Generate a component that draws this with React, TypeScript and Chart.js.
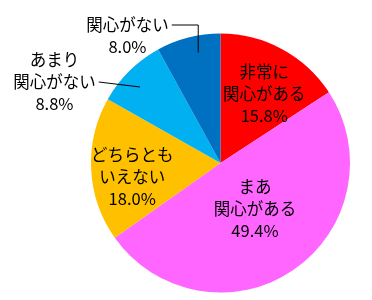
import React, { useEffect, useRef } from "react";
import { Chart, registerables } from "chart.js";

Chart.register(...registerables);

const categories: string[][] = [
  ["非常に", "関心がある"],
  ["まあ", "関心がある"],
  ["どちらとも", "いえない"],
  ["あまり", "関心がない"],
  ["関心がない"],
];
const values: number[] = [15.8, 49.4, 18.0, 8.8, 8.0];
const colors: string[] = ["#FF0000", "#FF66FF", "#FFC000", "#00B0F0", "#0070C0"];

type Place =
  | { kind: "in"; r: number; da: number }
  | { kind: "out"; lx: number; ly: number; ex: number; ey: number; path: "elbow" | "straight" };

const FONT = '16.5px "Noto Sans CJK JP", "Noto Sans", sans-serif';
const LINE_H = 22;

export default function App() {
  const ref = useRef<HTMLCanvasElement | null>(null);
  useEffect(() => {
    document.body.style.margin = "0";
    const canvas = ref.current;
    if (!canvas) return;

    const places: Place[] = [
      { kind: "in", r: 0.63, da: 4 },
      { kind: "in", r: 0.44, da: -3 },
      { kind: "in", r: 0.69, da: -6 },
      { kind: "out", lx: -166, ly: -81, ex: 0.855, ey: -2, path: "straight" },
      { kind: "out", lx: -93, ly: -127, ex: 0.87, ey: 3, path: "elbow" },
    ];

    const labelPlugin = {
      id: "sliceLabels",
      afterDatasetsDraw(chart: any) {
        const ctx = chart.ctx as CanvasRenderingContext2D;
        const meta = chart.getDatasetMeta(0);
        ctx.save();
        ctx.font = FONT;
        ctx.fillStyle = "#000";
        ctx.textAlign = "center";
        ctx.textBaseline = "middle";
        ctx.strokeStyle = "#000";
        ctx.lineWidth = 1;
        meta.data.forEach((arc: any, i: number) => {
          const { x, y, startAngle, endAngle, outerRadius } = arc.getProps(
            ["x", "y", "startAngle", "endAngle", "outerRadius"],
            true
          );
          const lines = [...categories[i], values[i].toFixed(1) + "%"];
          const mid = (startAngle + endAngle) / 2;
          const p = places[i];
          if (p.kind === "in") {
            const a = mid + (p.da * Math.PI) / 180;
            const cx = x + Math.cos(a) * outerRadius * p.r;
            const cy = y + Math.sin(a) * outerRadius * p.r;
            const top = cy - ((lines.length - 1) * LINE_H) / 2;
            lines.forEach((t, k) => ctx.fillText(t, cx, top + k * LINE_H));
          } else {
            const a = mid + (p.ey * Math.PI) / 180;
            const endX = x + Math.cos(a) * outerRadius * p.ex;
            const endY = y + Math.sin(a) * outerRadius * p.ex;
            const cx = x + p.lx;
            const cy = y + p.ly;
            const top = cy - ((lines.length - 1) * LINE_H) / 2;
            lines.forEach((t, k) => ctx.fillText(t, cx, top + k * LINE_H));
            const anchorLine = categories[i].length - 1;
            const ly = top + anchorLine * LINE_H;
            const w = ctx.measureText(categories[i][anchorLine]).width;
            const sx = cx + w / 2 + 3;
            ctx.beginPath();
            if (p.path === "elbow") {
              ctx.moveTo(sx, ly);
              ctx.lineTo(endX, ly);
              ctx.lineTo(endX, endY);
            } else {
              ctx.moveTo(sx, ly);
              ctx.lineTo(endX, endY);
            }
            ctx.stroke();
          }
        });
        ctx.restore();
      },
    };

    const chart = new Chart(canvas, {
      type: "pie",
      data: {
        labels: categories.map((c) => c.join("")),
        datasets: [
          {
            data: values,
            backgroundColor: colors,
            borderWidth: 0,
          },
        ],
      },
      options: {
        animation: false,
        responsive: false,
        maintainAspectRatio: false,
        layout: { padding: { left: 91, right: 22, top: 33, bottom: 7 } },
        plugins: {
          legend: { display: false },
          tooltip: { enabled: false },
        },
      },
      plugins: [labelPlugin],
    });
    return () => chart.destroy();
  }, []);

  return (
    <div style={{ position: "relative", width: 372, height: 300, background: "#fff" }}>
      <canvas ref={ref} width={372} height={300} style={{ width: 372, height: 300 }} />
    </div>
  );
}
